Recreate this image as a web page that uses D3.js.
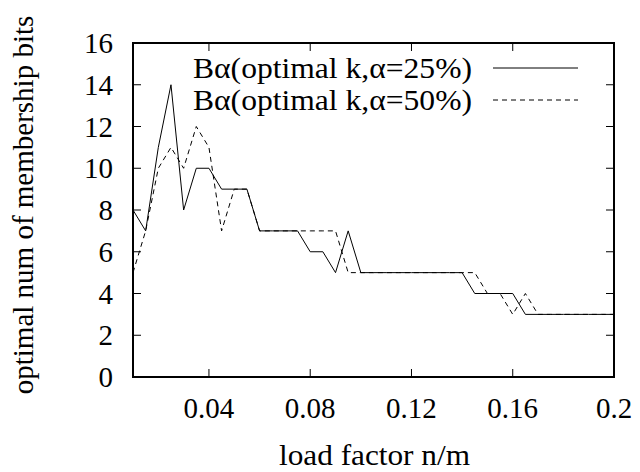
<!DOCTYPE html>
<html><head><meta charset="utf-8">
<script src="https://cdn.jsdelivr.net/npm/d3@7"></script>
<style>body{margin:0;background:#fff}svg{display:block}</style>
</head><body>
<svg id="c" width="640" height="472"></svg>
<script>
const loadFactor = [0.01,0.015,0.02,0.025,0.03,0.035,0.04,0.045,0.05,0.055,0.06,0.065,0.07,0.075,0.08,0.085,0.09,0.095,0.1,0.105,0.11,0.115,0.12,0.125,0.13,0.135,0.14,0.145,0.15,0.155,0.16,0.165,0.17,0.175,0.18,0.185,0.19,0.195,0.2];
const bits25 = [8,7,11,14,8,10,10,9,9,9,7,7,7,7,6,6,5,7,5,5,5,5,5,5,5,5,5,4,4,4,4,3,3,3,3,3,3,3,3];
const bits50 = [5,7,10,11,10,12,11,7,9,9,7,7,7,7,7,7,7,5,5,5,5,5,5,5,5,5,5,5,4,4,3,4,3,3,3,3,3,3,3];
const seriesNames = ["B\u03b1(optimal k,\u03b1=25%)","B\u03b1(optimal k,\u03b1=50%)"];
const xTicks = [0.04,0.08,0.12,0.16,0.2];
const yTicks = [0,2,4,6,8,10,12,14,16];

const FONT = "'Liberation Serif', 'Times New Roman', Tinos, Times, 'Nimbus Roman', 'Nimbus Roman No9 L', FreeSerif, 'Noto Serif', 'DejaVu Serif', serif";
const svg = d3.select("#c");
const L=133,R=614,T=43,B=377;
const x = d3.scaleLinear().domain([0.01,0.2]).range([L,R]);
const y = d3.scaleLinear().domain([0,16]).range([B,T]);
const fs = 29;

svg.append("clipPath").attr("id","clip").append("rect").attr("x",L).attr("y",T).attr("width",R-L).attr("height",B-T);

// ticks (inward, mirrored)
const tl=8;
const g = svg.append("g").attr("stroke","#000").attr("stroke-width",1);
xTicks.forEach(v=>{
  g.append("line").attr("x1",x(v)).attr("x2",x(v)).attr("y1",B).attr("y2",B-tl);
  g.append("line").attr("x1",x(v)).attr("x2",x(v)).attr("y1",T).attr("y2",T+tl);
});
yTicks.forEach(v=>{
  g.append("line").attr("x1",L).attr("x2",L+tl).attr("y1",y(v)).attr("y2",y(v));
  g.append("line").attr("x1",R).attr("x2",R-tl).attr("y1",y(v)).attr("y2",y(v));
});

function txt(){ return svg.append("text").attr("font-family",FONT).attr("font-size",fs).attr("fill","#000"); }

// tick labels
xTicks.forEach(v=>{
  txt().attr("x",x(v)).attr("y",418).attr("text-anchor","middle").text(d3.format("")(v));
});
yTicks.forEach(v=>{
  txt().attr("x",113).attr("y",y(v)+10).attr("text-anchor","end").text(v);
});

// lines
const data = [bits25,bits50];
const dash = [null,"5,4"];
data.forEach((s,i)=>{
  const line = d3.line().x((d,j)=>x(loadFactor[j])).y(d=>y(d));
  svg.append("path").datum(s).attr("d",line).attr("fill","none").attr("stroke","#000").attr("stroke-width",1)
    .attr("stroke-dasharray",dash[i]).attr("clip-path","url(#clip)");
});

// legend
seriesNames.forEach((n,i)=>{
  const ly = 68 + i*32;
  txt().attr("x",193).attr("y",ly+10).attr("textLength",279).attr("lengthAdjust","spacingAndGlyphs").text(n);
  svg.append("line").attr("x1",493).attr("x2",578).attr("y1",ly).attr("y2",ly).attr("stroke","#000").attr("stroke-width",1).attr("stroke-dasharray",dash[i]);
});

// frame
svg.append("rect").attr("x",L).attr("y",T).attr("width",R-L).attr("height",B-T).attr("fill","none").attr("stroke","#000").attr("stroke-width",2);

// axis titles
txt().attr("x",279).attr("y",465).attr("textLength",191).attr("lengthAdjust","spacingAndGlyphs").text("load factor n/m");
txt().attr("transform","translate(33,205) rotate(-90)").attr("text-anchor","middle").text("optimal num of membership bits");
</script>
</body></html>
